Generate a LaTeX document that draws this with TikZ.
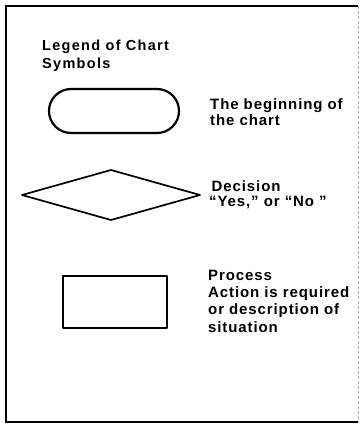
\documentclass[tikz,border=0pt]{standalone}
\usepackage{fontspec}
\setmainfont{Liberation Sans}[LetterSpace=6]
\newfontfamily\titlefam{Liberation Sans}[LetterSpace=9]
\begin{document}
\begin{tikzpicture}[x=1pt,y=-1pt,
  lbl/.style={anchor=base west,inner sep=0pt,align=left},
  shapeline/.style={draw=black,line width=1.7pt,line join=round}]
\useasboundingbox (0,0) rectangle (360,424);
% frame
\draw[line width=1.8pt] (358,6) -- (6,6) -- (6,422) -- (358,422);
\draw[gray!60,line width=0.6pt,dash pattern=on 3pt off 2pt] (358,6) -- (358,422);
% title (anchor = baseline of last line)
\node[lbl,font=\titlefam\bfseries\fontsize{14.5}{18}\selectfont] (title) at (42,68) {Legend of Chart\\Symbols};
% start symbol
\node[shapeline,line width=2.2pt,rounded corners=22pt,minimum width=130pt,minimum height=44pt,inner sep=0pt] (start) at (114,111) {};
\node[lbl,font=\bfseries\fontsize{15}{16}\selectfont] (starttxt) at (210,125) {The beginning of\\the chart};
% decision symbol
\coordinate (dl) at (22,195);
\coordinate (dt) at (111,170);
\coordinate (dr) at (200,195);
\coordinate (db) at (111,220);
\draw[shapeline] (dl) -- (dt) -- (dr) -- (db) -- cycle;
\node[lbl,font=\bfseries\fontsize{15}{14.3}\selectfont] (dectxt) at (209,206) {\hspace*{2.5pt}Decision\\“Yes,” or “No ”};
% process symbol
\node[shapeline,minimum width=104pt,minimum height=52pt,inner sep=0pt] (proc) at (115,302) {};
\node[lbl,font=\bfseries\fontsize{15}{17.3}\selectfont] (proctxt) at (208,332) {Process\\Action is required\\or description of\\situation};
\end{tikzpicture}
\end{document}
